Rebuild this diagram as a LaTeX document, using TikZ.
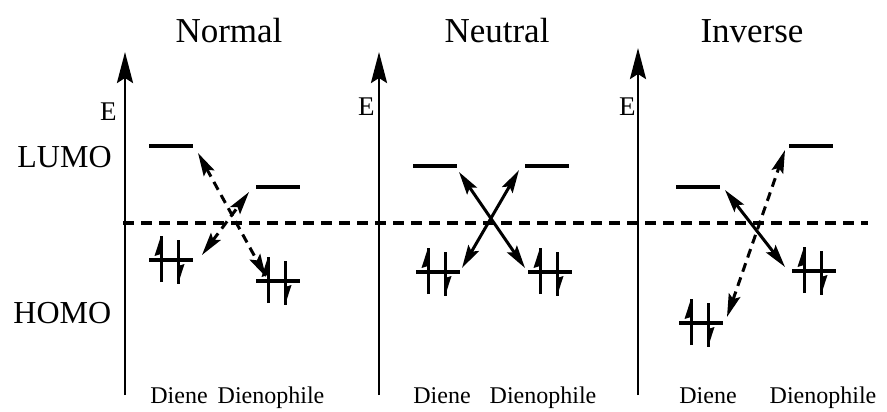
\documentclass[tikz,border=0pt]{standalone}
\usepackage{fontspec}
\setmainfont{Liberation Serif}
\usetikzlibrary{arrows.meta, calc}
\tikzset{
  every picture/.style={x=1pt, y=-1pt, line width=2.8pt},
  title/.style={font=\fontsize{35}{40}\selectfont, anchor=base},
  axlabel/.style={font=\fontsize{32}{36}\selectfont, anchor=base west, inner sep=0pt},
  elabel/.style={font=\fontsize{27}{30}\selectfont, anchor=base east, inner sep=0pt},
  mol/.style={font=\fontsize{24}{28}\selectfont, anchor=base, inner sep=0pt},
  level/.style={minimum width=44pt, minimum height=0pt, inner sep=0pt, outer sep=0pt},
  axis/.style={-{Stealth[length=31pt, width=16pt, inset=5pt]}, line width=2.8pt},
  dbl/.style={{Stealth[length=23pt, width=12pt, inset=4pt]}-{Stealth[length=23pt, width=12pt, inset=4pt]}, line width=3pt},
  dashdbl/.style={dbl, dash pattern=on 9pt off 6pt},
  midline/.style={line width=3.4pt, dash pattern=on 11pt off 7pt},
  pics/pair/.style={code={
    \draw[line width=3pt] (-10,22) -- (-10,-24);
    \fill (-10,-24) -- (-16.5,-4) -- (-10,-6) -- cycle;
    \draw[line width=3pt] (7,-20) -- (7,24);
    \fill (7,24) -- (13.5,4) -- (7,6) -- cycle;
  }},
}
\newcommand{\drawlevel}[1]{\draw[line width=3.6pt] (#1.west) -- (#1.east);}

\begin{document}
\begin{tikzpicture}
  \useasboundingbox (0,0) rectangle (887,412);

  % titles
  \node[title] (tNormal) at (229,43) {Normal};
  \node[title] (tNeutral) at (497,43) {Neutral};
  \node[title] (tInverse) at (752,43) {Inverse};

  % axes
  \coordinate (ax1b) at (125,395); \coordinate (ax1t) at (125,52);
  \coordinate (ax2b) at (379,395); \coordinate (ax2t) at (379,52);
  \coordinate (ax3b) at (638,395); \coordinate (ax3t) at (638,48);
  \draw[axis] (ax1b) -- (ax1t);
  \draw[axis] (ax2b) -- (ax2t);
  \draw[axis] (ax3b) -- (ax3t);
  \node[elabel] (e1) at (118,121) {E};
  \node[elabel] (e2) at (376,115) {E};
  \node[elabel] (e3) at (637,115) {E};
  \node[axlabel] (lumo) at (16,167) {LUMO};
  \node[axlabel] (homo) at (12,323) {HOMO};

  % reference line
  \coordinate (mid0) at (123,223);
  \coordinate (mid1) at (868,223);
  \draw[midline] (mid0) -- (mid1);

  % Normal
  \node[level] (nDL) at (171,146) {};
  \node[level] (nPL) at (278,187) {};
  \node[level] (nDH) at (171,260) {};
  \node[level] (nPH) at (278,281) {};
  \foreach \n in {nDL,nPL,nDH,nPH} {\drawlevel{\n}}
  \pic at (nDH) {pair};
  \pic at (nPH) {pair};
  \draw[dashdbl] ([shift={(5,7)}]nDL.east) -- ([shift={(10,-4)}]nPH.west);
  \draw[dashdbl] ([shift={(9,-5)}]nDH.east) -- ([shift={(-7,5)}]nPL.west);

  % Neutral
  \node[level] (uDL) at (435,166) {};
  \node[level] (uPL) at (547,166) {};
  \node[level] (uDH) at (438,272) {};
  \node[level] (uPH) at (550,272) {};
  \foreach \n in {uDL,uPL,uDH,uPH} {\drawlevel{\n}}
  \pic at (uDH) {pair};
  \pic at (uPH) {pair};
  \draw[dbl] ([shift={(2,6)}]uDL.east) -- ([shift={(-3,-4)}]uPH.west);
  \draw[dbl] ([shift={(2,-4)}]uDH.east) -- ([shift={(-6,4)}]uPL.west);

  % Inverse
  \node[level] (iDL) at (698,187) {};
  \node[level] (iPL) at (811,146) {};
  \node[level] (iDH) at (701,323) {};
  \node[level] (iPH) at (814,271) {};
  \foreach \n in {iDL,iPL,iDH,iPH} {\drawlevel{\n}}
  \pic at (iDH) {pair};
  \pic at (iPH) {pair};
  \draw[dbl] ([shift={(5,3)}]iDL.east) -- ([shift={(-7,-4)}]iPH.west);
  \draw[dashdbl] ([shift={(4,-6)}]iDH.east) -- ([shift={(-4,4)}]iPL.west);

  % molecule labels
  \node[mol] (d1) at (179,403) {Diene};
  \node[mol] (p1) at (271,403) {Dienophile};
  \node[mol] (d2) at (442,403) {Diene};
  \node[mol] (p2) at (543,403) {Dienophile};
  \node[mol] (d3) at (708,403) {Diene};
  \node[mol] (p3) at (823,403) {Dienophile};
\end{tikzpicture}
\end{document}
